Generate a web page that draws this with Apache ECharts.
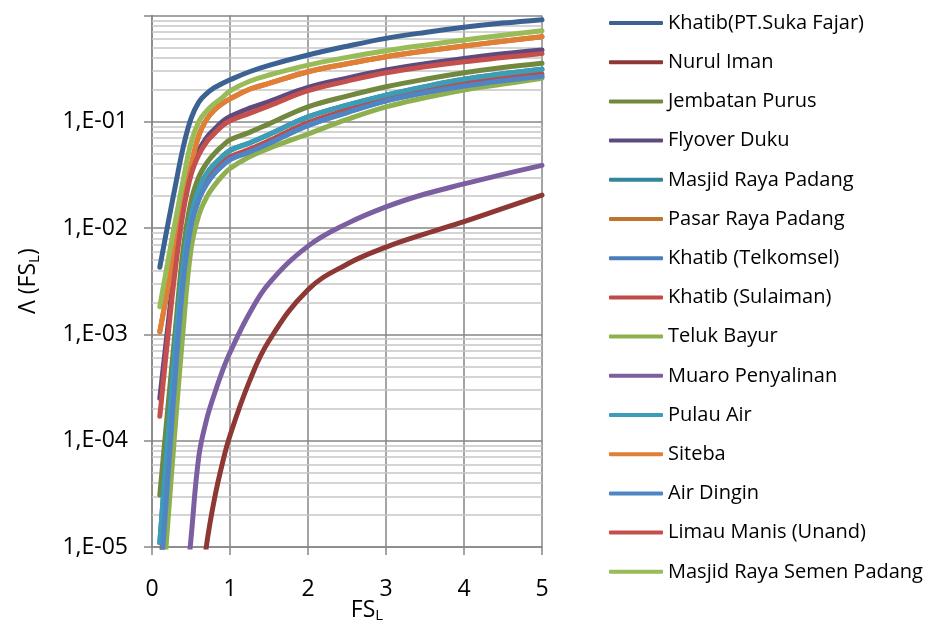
<!DOCTYPE html>
<html><head><meta charset="utf-8">
<script src="https://cdn.jsdelivr.net/npm/echarts@6/dist/echarts.min.js"></script>
<style>html,body{margin:0;padding:0;background:#fff}#c{width:937px;height:626px}</style>
</head><body><div id="c"></div>
<script>
// x values (FS_L)
const fsL = [0.1,0.2,0.3,0.4,0.5,0.6,0.7,0.8,0.9,1,1.25,1.5,2,2.5,3,3.5,4,4.5,5];

// Λ(FS_L) per site
const khatibPT      = [4.27e-3,0.0105,0.0251,0.0575,0.107,0.153,0.184,0.209,0.229,0.248,0.295,0.339,0.424,0.513,0.608,0.692,0.773,0.847,0.912];
const nurulIman     = [null,null,null,null,null,2.51e-6,1.05e-5,2.82e-5,6.03e-5,1.12e-4,3.63e-4,8.71e-4,2.63e-3,4.57e-3,6.61e-3,8.81e-3,0.0115,0.0153,0.0204];
const jembatanPurus = [3.09e-5,1.91e-4,1.12e-3,6.31e-3,0.0178,0.0302,0.0407,0.0501,0.0589,0.0676,0.0794,0.0955,0.138,0.174,0.213,0.251,0.289,0.324,0.355];
const flyoverDuku   = [2.51e-4,1.12e-3,5.01e-3,0.0166,0.0355,0.0537,0.0708,0.0851,0.100,0.112,0.134,0.155,0.210,0.257,0.306,0.351,0.394,0.435,0.473];
const masjidRayaPadang = [1.10e-5,1.0e-4,7.94e-4,4.47e-3,0.0132,0.0234,0.0324,0.0398,0.0468,0.0537,0.0631,0.0759,0.111,0.143,0.178,0.214,0.251,0.282,0.311];
const pasarRayaPadang  = [1.06e-3,2.63e-3,6.61e-3,0.0166,0.0380,0.0741,0.105,0.129,0.148,0.164,0.202,0.229,0.295,0.351,0.409,0.462,0.515,0.571,0.631];
const khatibTelkomsel  = [3.98e-6,4.17e-5,4.27e-4,3.16e-3,0.0105,0.0186,0.0260,0.0327,0.0385,0.0442,0.0519,0.0624,0.0923,0.122,0.157,0.188,0.217,0.243,0.266];
const khatibSulaiman   = [5.0e-6,5.01e-5,5.01e-4,3.55e-3,0.0112,0.0200,0.0275,0.0347,0.0407,0.0468,0.0550,0.0661,0.0980,0.129,0.166,0.200,0.230,0.257,0.281];
const telukBayur       = [1.58e-6,1.58e-5,1.41e-4,1.12e-3,6.31e-3,0.0132,0.0195,0.0251,0.0309,0.0363,0.0468,0.0562,0.0766,0.105,0.138,0.168,0.199,0.226,0.256];
const muaroPenyalinan  = [null,null,null,2.0e-6,1.20e-5,7.08e-5,1.58e-4,2.75e-4,4.47e-4,6.76e-4,1.58e-3,3.02e-3,6.76e-3,0.0110,0.0158,0.0209,0.0260,0.0320,0.0389];
const pulauAir         = [1.10e-5,1.0e-4,7.94e-4,4.47e-3,0.0132,0.0234,0.0324,0.0398,0.0468,0.0537,0.0631,0.0759,0.111,0.143,0.178,0.214,0.251,0.282,0.311];
const siteba           = [1.06e-3,2.63e-3,6.61e-3,0.0166,0.0380,0.0741,0.105,0.129,0.148,0.164,0.202,0.229,0.295,0.351,0.409,0.462,0.515,0.571,0.631];
const airDingin        = [3.98e-6,4.17e-5,4.27e-4,3.16e-3,0.0105,0.0186,0.0260,0.0327,0.0385,0.0442,0.0519,0.0624,0.0923,0.122,0.157,0.188,0.217,0.243,0.266];
const limauManis       = [1.70e-4,8.91e-4,4.17e-3,0.0141,0.0316,0.0490,0.0646,0.0776,0.0912,0.102,0.120,0.141,0.196,0.241,0.289,0.329,0.367,0.401,0.437];
const masjidSemenPadang= [1.82e-3,4.68e-3,0.0117,0.0282,0.0631,0.100,0.126,0.148,0.168,0.195,0.240,0.275,0.341,0.403,0.466,0.525,0.587,0.650,0.718];

const seriesNames = ['Khatib(PT.Suka Fajar)','Nurul Iman','Jembatan Purus','Flyover Duku','Masjid Raya Padang','Pasar Raya Padang','Khatib (Telkomsel)','Khatib (Sulaiman)','Teluk Bayur','Muaro Penyalinan','Pulau Air','Siteba','Air Dingin','Limau Manis (Unand)','Masjid Raya Semen Padang'];
const seriesValues = [khatibPT,nurulIman,jembatanPurus,flyoverDuku,masjidRayaPadang,pasarRayaPadang,khatibTelkomsel,khatibSulaiman,telukBayur,muaroPenyalinan,pulauAir,siteba,airDingin,limauManis,masjidSemenPadang];
const seriesColors = ['#3B6292','#8E3835','#71883E','#5E4A7E','#33859B','#C0722F','#4A7EBB','#BE4B48','#8FB04E','#7B5FA0','#3D9DB6','#E07F35','#4F85C4','#C44F4C','#99BB58'];

const yTickValues = [1e-5,1e-4,1e-3,1e-2,1e-1];
const yTickLabels = ['1,E-05','1,E-04','1,E-03','1,E-02','1,E-01'];
const xTickLabels = ['0','1','2','3','4','5'];

const minorGrid = [];
yTickValues.forEach(d => { for (let k = 2; k <= 9; k++) minorGrid.push(+(k*d).toPrecision(3)); });

const font = '"Open Sans", sans-serif';
const series = seriesNames.map((name, i) => ({
  name, type: 'line', smooth: 0.4, symbol: 'none', showSymbol: false, clip: true, z: 10,
  data: fsL.map((x, j) => [x, seriesValues[i][j]]).filter(p => p[1] != null),
  lineStyle: { width: 5, color: seriesColors[i], cap: 'round', join: 'round' },
  itemStyle: { color: seriesColors[i] },
  emphasis: { disabled: true }
}));
series.unshift({
  name: '', type: 'line', data: [], z: 1, silent: true,
  markLine: { silent: true, symbol: 'none', animation: false, precision: 12, z: 1, label: { show: false },
    lineStyle: { color: '#c6c6c6', width: 1.5, type: 'solid' },
    data: minorGrid.map(v => ({ yAxis: v })) }
});

const chart = echarts.init(document.getElementById('c'), null, { renderer: 'canvas' });
chart.setOption({
  animation: false,
  textStyle: { fontFamily: font },
  grid: { left: 152, right: 395, top: 15.4, bottom: 79, containLabel: false, outerBoundsMode: 'none' },
  xAxis: {
    type: 'value', min: 0, max: 5, interval: 1,
    name: '{m|FS}{s|L}', nameLocation: 'middle', nameGap: 50, nameMoveOverlap: false,
    nameTextStyle: { padding: [0, 0, 0, 40], rich: {
      m: { fontFamily: font, fontSize: 23, color: '#000' },
      s: { fontFamily: font, fontSize: 15, color: '#000', verticalAlign: 'bottom', padding: [11, 0, 0, 0] } } },
    axisLine: { lineStyle: { color: '#868686', width: 1.5 } },
    axisTick: { length: 8, lineStyle: { color: '#868686', width: 1.5 } },
    axisLabel: { fontSize: 23, color: '#000', margin: 31, fontFamily: font,
      formatter: v => xTickLabels[Math.round(v)] },
    splitLine: { show: true, lineStyle: { color: '#868686', width: 1.5 } }
  },
  yAxis: {
    type: 'log', logBase: 10, min: 1e-5, max: 1,
    name: '{m|Λ (FS}{s|L}{m|)}', nameLocation: 'middle', nameGap: 110, nameRotate: 90,
    nameTextStyle: { rich: {
      m: { fontFamily: font, fontSize: 23, color: '#000' },
      s: { fontFamily: font, fontSize: 15, color: '#000', verticalAlign: 'bottom', padding: [12, 0, 0, 0] } } },
    axisLine: { show: true, lineStyle: { color: '#868686', width: 1.5 } },
    axisTick: { show: true, length: 8, lineStyle: { color: '#868686', width: 1.5 } },
    axisLabel: { fontSize: 23, color: '#000', margin: 24, fontFamily: font,
      formatter: v => { const i = yTickValues.findIndex(t => Math.abs(Math.log10(t) - Math.log10(v)) < 1e-6); return i >= 0 ? yTickLabels[i] : ''; } },
    splitLine: { show: true, lineStyle: { color: '#868686', width: 1.5 } }
  },
  legend: {
    data: seriesNames, orient: 'vertical', left: 604, top: 7,
    icon: 'roundRect', itemWidth: 54, itemHeight: 4, itemGap: 17.2,
    textStyle: { fontFamily: font, fontSize: 20, color: '#000', lineHeight: 22 }
  },
  series
});
</script></body></html>
